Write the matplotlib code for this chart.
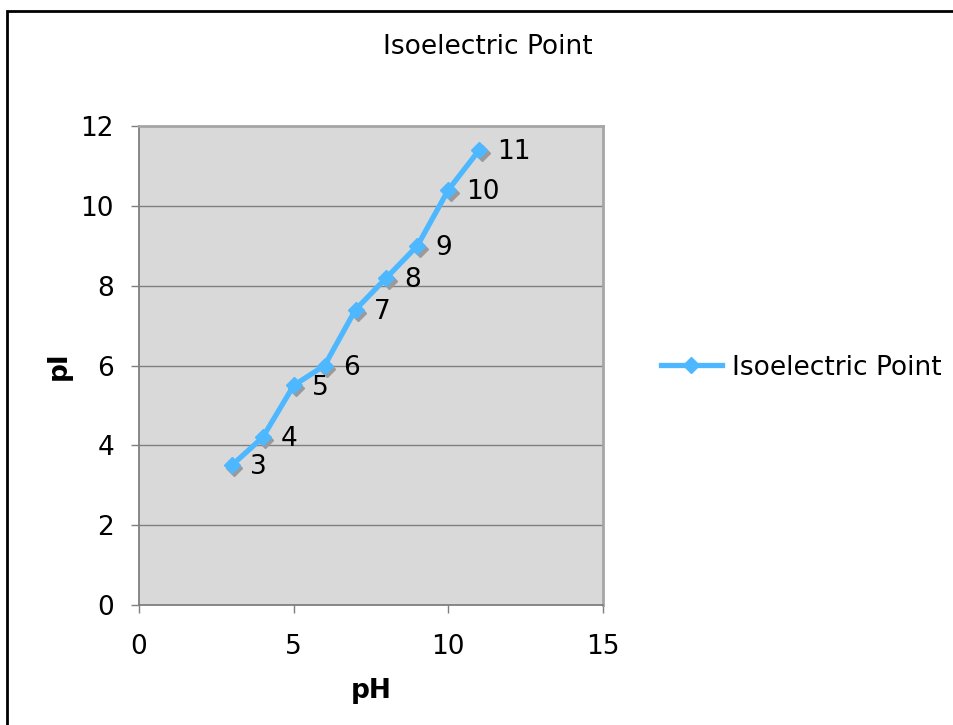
import matplotlib
matplotlib.use("Agg")
import matplotlib.pyplot as plt
import matplotlib.transforms as mtransforms
from matplotlib.lines import Line2D
from matplotlib.patches import Rectangle

# pH vs isoelectric point
ph = [3, 4, 5, 6, 7, 8, 9, 10, 11]
pi_values = [3.5, 4.2, 5.5, 6.0, 7.4, 8.2, 9.0, 10.4, 11.4]
point_labels = ["3", "4", "5", "6", "7", "8", "9", "10", "11"]
x_ticks = [0, 5, 10, 15]
y_ticks = [0, 2, 4, 6, 8, 10, 12]

series_color = "#4DB8FF"
fs = 19

plt.rcParams["font.family"] = ["DejaVu Sans"]

fig = plt.figure(figsize=(9.54, 7.25), dpi=100)
ax = fig.add_axes([0.1457, 0.1655, 0.4864, 0.6607])

ax.set_facecolor("#D9D9D9")
ax.set_xlim(0, 15)
ax.set_ylim(0, 12)
ax.set_xticks(x_ticks)
ax.set_yticks(y_ticks)
ax.tick_params(axis="both", labelsize=fs, length=6, width=1, color="#7F7F7F",
               direction="out")
ax.tick_params(axis="x", pad=15)
ax.tick_params(axis="y", pad=12)
for side in ["left", "bottom"]:
    ax.spines[side].set_color("#7F7F7F")
    ax.spines[side].set_linewidth(1.3)
for side in ["right", "top"]:
    ax.spines[side].set_color("#A6A6A6")
    ax.spines[side].set_linewidth(2)
ax.yaxis.grid(True, color="#808080", linewidth=1)
ax.set_axisbelow(True)

# grey drop shadow under the markers
shadow = mtransforms.offset_copy(ax.transData, fig=fig, x=2.5, y=-3, units="dots")
ax.plot(ph, pi_values, linestyle="none", marker="D", markersize=8.5,
        color="#9A9A9A", transform=shadow, zorder=2)
ax.plot(ph, pi_values, color=series_color, linewidth=3.8, marker="D",
        markersize=8.5, zorder=3, solid_joinstyle="round")

for x, y, lab in zip(ph, pi_values, point_labels):
    ax.annotate(lab, (x, y), xytext=(13, -1.5), textcoords="offset points",
                fontsize=fs, va="center", ha="left")

fig.text(0.511, 0.935, "Isoelectric Point", fontsize=fs, ha="center", va="center")
ax.set_xlabel("pH", fontsize=fs, fontweight="bold", labelpad=13)
ax.set_ylabel("pI", fontsize=fs, fontweight="bold", labelpad=6)

handle = Line2D([], [], color=series_color, linewidth=3.8, marker="D", markersize=8.5)
fig.legend([handle], ["Isoelectric Point"], loc="center left",
           bbox_to_anchor=(0.668, 0.493), frameon=False, fontsize=fs,
           handlelength=2.3, handletextpad=0.38)

# outer chart border, running off the right and bottom edges
fig.patches.append(Rectangle((7 / 954, -0.05), 1.1, 1 - 11 / 725 + 0.05,
                             transform=fig.transFigure, fill=False,
                             edgecolor="black", linewidth=2))

fig.savefig("out.png", dpi=100)
